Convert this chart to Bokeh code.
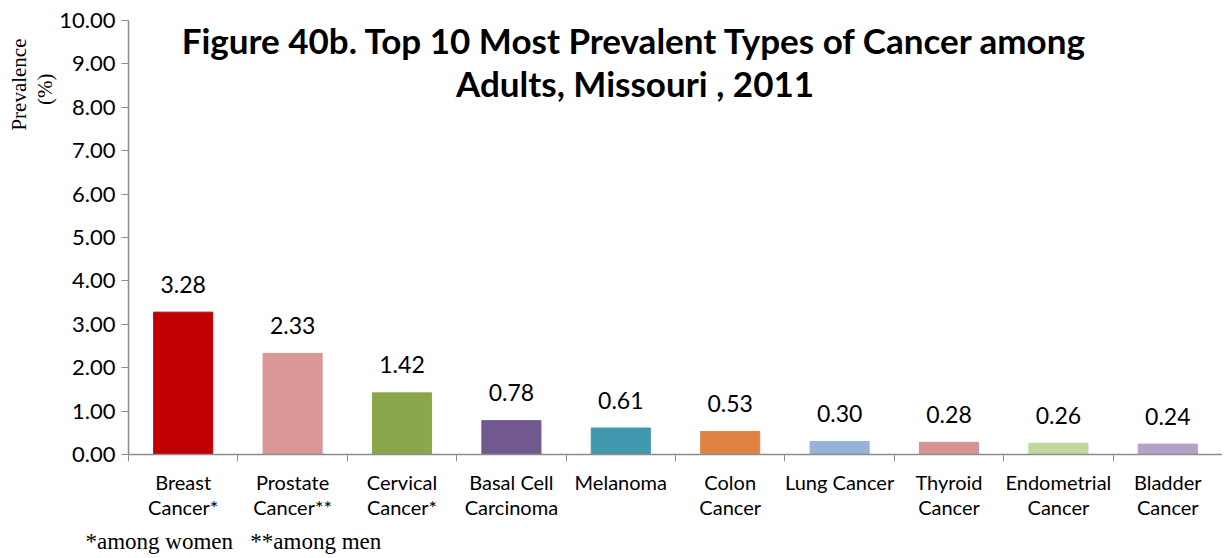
from bokeh.plotting import figure
from bokeh.models import Range1d, FixedTicker, Label, Title, NumeralTickFormatter, ColumnDataSource
from bokeh.embed import file_html
from bokeh.resources import INLINE
from bokeh.core.properties import value

categories = ["Breast\nCancer*", "Prostate\nCancer**", "Cervical\nCancer*", "Basal Cell\nCarcinoma",
              "Melanoma", "Colon\nCancer", "Lung Cancer", "Thyroid\nCancer", "Endometrial\nCancer",
              "Bladder\nCancer"]
values = [3.28, 2.33, 1.42, 0.78, 0.61, 0.53, 0.30, 0.28, 0.26, 0.24]
colors = ["#C00000", "#D99694", "#8AA84B", "#71588F", "#4198AF", "#DF8344", "#95B3D7",
          "#D59291", "#C3D69B", "#B3A2C7"]
value_labels = ["%.2f" % v for v in values]

xs = [i + 0.5 for i in range(len(categories))]
src = ColumnDataSource(dict(x=xs, top=values, color=colors, lab=value_labels))

p = figure(width=1222, height=558, x_range=Range1d(0, 10), y_range=Range1d(0, 10),
           output_backend="svg", toolbar_location=None,
           min_border_left=128, min_border_right=0, min_border_top=20, min_border_bottom=103)
p.outline_line_color = None
p.grid.visible = False
p.background_fill_color = "white"

p.vbar(x="x", top="top", width=0.54, color="color", source=src)
p.text(x="x", y="top", text="lab", source=src, text_align="center", text_baseline="alphabetic",
       y_offset=-28, text_font=value("Lato"), text_font_size="23px", text_color="black")

axis_color = "#8C8C8C"
# x axis
p.xaxis.ticker = FixedTicker(ticks=xs, minor_ticks=list(range(11)))
p.xaxis.major_label_overrides = {x: c for x, c in zip(xs, categories)}
p.xaxis.major_tick_line_color = None
p.xaxis.minor_tick_out = 7
p.xaxis.minor_tick_in = 0
p.xaxis.minor_tick_line_color = axis_color
p.xaxis.axis_line_color = axis_color
p.xaxis.axis_line_width = 1.5
p.xaxis.major_label_text_font = "Lato"
p.xaxis.major_label_text_font_size = "20px"
p.xaxis.major_label_text_color = "black"
p.xaxis.major_label_standoff = 8
p.xaxis.major_label_text_line_height = 1.05

# y axis
p.yaxis.ticker = FixedTicker(ticks=list(range(11)))
p.yaxis.formatter = NumeralTickFormatter(format="0.00")
p.yaxis.major_tick_out = 7
p.yaxis.major_tick_in = 0
p.yaxis.minor_tick_line_color = None
p.yaxis.major_tick_line_color = axis_color
p.yaxis.axis_line_color = axis_color
p.yaxis.axis_line_width = 1.5
p.yaxis.major_label_text_font = "Lato"
p.yaxis.major_label_text_font_size = "22px"
p.yaxis.major_label_text_color = "black"
p.yaxis.major_label_standoff = 6

# title inside plot
p.add_layout(Label(x=4.63, y=10, y_offset=-19, text="Figure 40b. Top 10 Most Prevalent Types of Cancer among",
                   text_align="center", text_baseline="middle", text_font="Lato", text_color="black",
                   text_font_style="bold", text_font_size="35px"))
p.add_layout(Label(x=4.63, y=10, y_offset=-62, text="Adults, Missouri , 2011",
                   text_align="center", text_baseline="middle", text_font="Lato", text_color="black",
                   text_font_style="bold", text_font_size="35px"))

# y-axis label (two side titles, centred on each other)
p.add_layout(Title(text="(%)", align="right", offset=53, standoff=0,
                   text_font="Liberation Serif", text_font_size="21px", text_font_style="normal",
                   text_color="black"), "left")
p.add_layout(Title(text="Prevalence", align="right", offset=18, standoff=0,
                   text_font="Liberation Serif", text_font_size="21px", text_font_style="normal",
                   text_color="black"), "left")

# footnote
p.add_layout(Title(text="*among women\u00a0\u00a0\u00a0**among men", align="left", offset=-43, standoff=10,
                   text_font="Liberation Serif", text_font_size="23px", text_font_style="normal",
                   text_color="black"), "below")

open("out.html", "w").write(file_html(p, INLINE))
